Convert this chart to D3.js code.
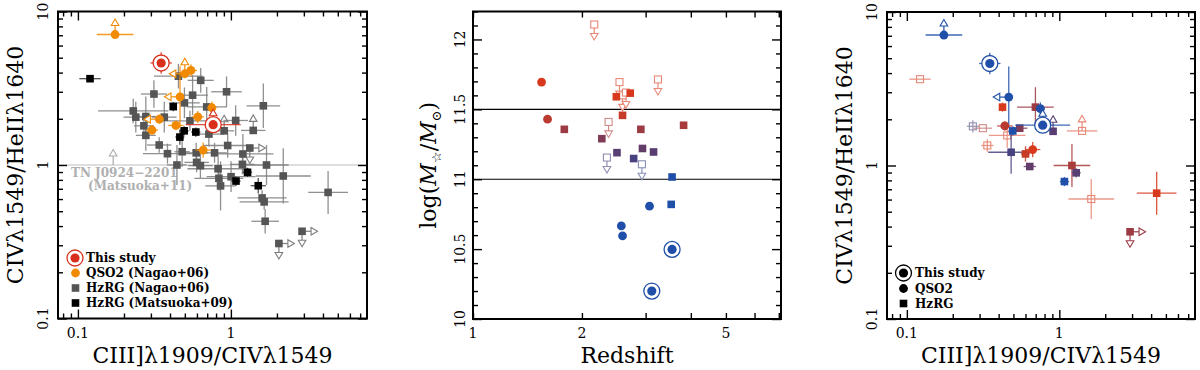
<!DOCTYPE html>
<html lang="en">
<head>
<meta charset="UTF-8" />
<script src="https://d3js.org/d3.v7.min.js"></script>
<title>CIV/HeII vs CIII]/CIV and stellar mass</title>
<style>
  body { margin: 0; background: #fff; }
  svg text { font-family: "DejaVu Serif", serif; }
</style>
</head>
<body>
<div id="chart"></div>
<script>
// ---- line ratio panels: [CIII]/CIV, CIV/HeII, x err (dex), y err (dex), limit arrows]
var thisStudyRatio = [
  [0.35, 4.62, 0.07, 0.07, ""],
  [0.766, 1.83, 0.18, 0, "u"]
];
var qso2Nagao = [
  [0.175, 7.08, 0.12, 0, "u"],
  [0.50, 3.93, 0, 0, "lu"],
  [0.548, 4.13, 0.04, 0.04, ""],
  [0.465, 2.78, 0, 0.2, "l"],
  [0.751, 2.36, 0.03, 0.04, ""],
  [0.608, 2.06, 0.04, 0.04, ""],
  [0.341, 1.99, 0, 0.03, "l"],
  [0.305, 1.69, 0.04, 0.03, ""],
  [0.437, 1.81, 0.05, 0.03, ""],
  [0.659, 1.25, 0.05, 0.05, ""]
];
var hzrgNagao = [
  [0.314, 2.90, 0.085, 0.09, ""], [0.230, 2.25, 0.23, 0.08, ""], [0.239, 2.05, 0.08, 0.1, ""],
  [0.278, 2.07, 0.065, 0.13, ""], [0.270, 1.80, 0.065, 0.08, ""], [0.278, 1.56, 0.065, 0.1, ""],
  [0.340, 1.35, 0.08, 0.05, ""], [0.367, 2.05, 0.08, 0.1, ""], [0.385, 1.185, 0.16, 0.065, ""],
  [0.444, 1.00, 0.065, 0.13, ""], [0.480, 1.22, 0.05, 0.1, ""], [0.454, 3.79, 0.16, 0.08, ""],
  [0.497, 2.54, 0.1, 0.1, ""], [0.562, 2.85, 0.1, 0.13, ""], [0.635, 3.56, 0.085, 0.08, ""],
  [0.54, 1.94, 0.2, 0.065, ""], [0.593, 1.20, 0.08, 0.065, ""], [0.597, 1.04, 0.08, 0.065, ""],
  [0.632, 0.99, 0.08, 0.08, ""], [0.695, 2.39, 0.13, 0.13, ""], [0.718, 1.59, 0.1, 0.08, ""],
  [0.782, 1.20, 0.08, 0.065, ""], [0.825, 0.945, 0.2, 0.08, ""], [0.835, 0.819, 0.16, 0.08, ""],
  [0.856, 0.731, 0.1, 0.16, ""], [0.937, 3.00, 0.1, 0.1, ""], [0.904, 1.67, 0.065, 0, "u"],
  [0.953, 1.34, 0.16, 0.08, ""], [1.003, 0.839, 0.16, 0.1, ""], [1.075, 1.95, 0.08, 0.1, ""],
  [1.198, 1.18, 0.2, 0.13, ""], [1.19, 1.01, 0.08, 0.065, ""], [1.33, 1.29, 0, 0, "rd"],
  [1.40, 1.68, 0.08, 0, "u"], [1.63, 2.43, 0.11, 0.145, ""], [1.71, 1.00, 0.145, 0.13, ""],
  [1.60, 0.61, 0.16, 0.05, ""], [1.65, 0.575, 0.16, 0.05, ""], [1.675, 0.43, 0.09, 0.08, ""],
  [2.20, 0.848, 0.18, 0.18, ""], [2.06, 0.308, 0, 0, "rd"], [2.92, 0.37, 0, 0, "rd"],
  [4.32, 0.663, 0.13, 0.14, ""]
];
var hzrgMatsuoka = [
  [0.12, 3.65, 0.07, 0, ""], [0.42, 2.40, 0, 0.03, ""], [0.464, 1.52, 0.03, 0.05, ""],
  [0.495, 1.67, 0.03, 0.03, ""], [0.59, 1.64, 0.03, 0.03, ""], [1.285, 0.896, 0.03, 0.03, ""],
  [1.08, 0.786, 0.03, 0.03, ""], [1.51, 0.733, 0.05, 0.05, ""]
];
var tnJ0924 = [[0.17, 1.0, 0, 0, "u"]];

// ---- stellar mass panel: [redshift, log M*]
var thisStudyMass = [[3.55, 10.498], [3.12, 10.2]];
var qso2Mass = [[1.547, 11.695], [1.607, 11.43], [2.57, 10.666], [2.59, 10.595], [3.075, 10.807]];
var hzrgMass = [
  [1.788, 11.357], [2.27, 11.29], [2.50, 11.19], [2.49, 11.59], [2.59, 11.457], [2.72, 11.616],
  [2.78, 11.148], [2.91, 11.357], [2.94, 11.22], [3.155, 11.195], [3.82, 11.386], [3.55, 11.016],
  [3.53, 10.82]
];
var hzrgMassLim = [
  [2.163, 12.107], [2.37, 11.41], [2.345, 11.155], [2.54, 11.695], [2.59, 11.60], [2.647, 11.62],
  [2.93, 11.107], [3.245, 11.714]
];

// ---- right panel: line ratios of objects with masses, last column log M*
var thisStudyRatioM = [[0.35, 4.62, 0.07, 0.07, "", 10.498], [0.778, 1.83, 0.18, 0, "u", 10.2]];
var qso2RatioM = [
  [0.175, 7.08, 0.12, 0, "u", 10.666], [0.466, 2.79, 0, 0.2, "l", 10.807],
  [0.751, 2.35, 0.03, 0.04, "", 10.595], [0.439, 1.81, 0.05, 0.03, "", 11.43],
  [0.669, 1.27, 0.05, 0.05, "", 11.695]
];
var hzrgRatioM = [
  [0.424, 2.40, 0, 0.03, "", 11.59], [0.697, 2.40, 0.12, 0.13, "", 11.357],
  [0.55, 1.75, 0.05, 0.02, "", 11.29], [0.495, 1.68, 0.03, 0.03, "", 11.016],
  [0.483, 1.22, 0.15, 0.14, "", 11.148], [0.60, 1.19, 0.03, 0.05, "", 11.457],
  [0.64, 0.985, 0.04, 0, "", 11.22], [0.91, 1.67, 0, 0, "u", 11.195],
  [1.21, 1.0, 0.12, 0.14, "", 11.386], [1.29, 0.896, 0.03, 0.03, "", 11.19],
  [1.08, 0.786, 0.03, 0.03, "", 10.82], [4.35, 0.66, 0.13, 0.14, "", 11.616],
  [2.91, 0.37, 0, 0, "rd", 11.357]
];
var hzrgRatioMLim = [
  [0.122, 3.65, 0.07, 0, "", 12.107], [0.271, 1.80, 0.04, 0.04, "", 11.155],
  [0.315, 1.75, 0.06, 0, "", 11.41], [0.337, 1.35, 0.04, 0.04, "", 11.61],
  [0.455, 1.57, 0.12, 0.08, "", 11.62], [1.41, 1.68, 0.1, 0, "u", 11.714],
  [1.62, 0.605, 0.15, 0.13, "", 11.695]
];

var ratioXLabels = [0.1, 1], ratioYLabels = [0.1, 1, 10];
var zLabels = [1, 2, 5], massLabels = [10, 10.5, 11, 11.5, 12];
var massCuts = [11, 11.5];

// colours
var ORANGE = "#f28a00", THIS_RED = "#d9301e", GREY = "#555", GREY_ERR = "#7d7d7d";
var massColor = d3.scaleLinear().domain([11.02, 11.2, 11.5])
  .range(["#1f4fa8", "#5a3d70", "#d8391c"]).clamp(true);
function lighter(c) { return d3.interpolateRgb(c, "#fff")(0.4); }

var svg = d3.select("#chart").append("svg").attr("width", 1200).attr("height", 370);

// scales
var xL = d3.scaleLog().domain([0.0741, 7.76]).range([58, 367]);
var yL = d3.scaleLog().domain([0.1, 10]).range([318.5, 11.5]);
var xM = d3.scaleLog().domain([1, 7.1]).range([473, 781]);
var yM = d3.scaleLinear().domain([10, 12.2]).range([319, 11.5]);
var xR = d3.scaleLog().domain([0.0741, 7.76]).range([887, 1195]);
var yR = d3.scaleLog().domain([0.1, 10]).range([319, 12]);

function logSplit(scale) {
  var maj = [], min = [];
  scale.ticks().forEach(function (v) {
    var l = Math.log10(v);
    (Math.abs(l - Math.round(l)) < 1e-9 ? maj : min).push(v);
  });
  return [[maj, 9], [min, 5]];
}

function frameAxes(g, sx, sy, xt, yt) {
  var xr = sx.range(), yr = sy.range();
  function put(axis, tx, ty) {
    g.append("g").attr("transform", "translate(" + tx + "," + ty + ")").call(axis);
  }
  xt.forEach(function (t) {
    put(d3.axisBottom(sx).tickValues(t[0]).tickSize(-t[1]).tickFormat(""), 0, yr[0]);
    put(d3.axisTop(sx).tickValues(t[0]).tickSize(-t[1]).tickFormat(""), 0, yr[1]);
  });
  yt.forEach(function (t) {
    put(d3.axisLeft(sy).tickValues(t[0]).tickSize(-t[1]).tickFormat(""), xr[0], 0);
    put(d3.axisRight(sy).tickValues(t[0]).tickSize(-t[1]).tickFormat(""), xr[1], 0);
  });
  g.selectAll(".domain").remove();
  g.selectAll(".tick line").attr("stroke", "#000").attr("stroke-width", 1.4);
  g.append("rect").attr("x", xr[0]).attr("y", yr[1])
    .attr("width", xr[1] - xr[0]).attr("height", yr[0] - yr[1])
    .attr("fill", "none").attr("stroke", "#000").attr("stroke-width", 2);
}

function tickLabels(g, sx, sy, xv, yv, yLabX) {
  g.selectAll(null).data(xv).enter().append("text")
    .attr("x", function (d) { return sx(d); }).attr("y", 338)
    .attr("text-anchor", "middle").attr("font-size", 14).text(String);
  g.selectAll(null).data(yv).enter().append("text")
    .attr("transform", function (d) { return "translate(" + yLabX + "," + sy(d) + ") rotate(-90)"; })
    .attr("text-anchor", "middle").attr("font-size", 14).text(String);
}

var DIRS = { u: [0, -1, 0], d: [0, 1, 180], l: [-1, 0, 270], r: [1, 0, 90] };
function arrow(g, x, y, dir, color) {
  var v = DIRS[dir], L = 12;
  g.append("line").attr("x1", x).attr("y1", y)
    .attr("x2", x + v[0] * (L - 3)).attr("y2", y + v[1] * (L - 3))
    .attr("stroke", color).attr("stroke-width", 1.2);
  g.append("path").attr("d", "M0,-3.5L3.8,3L-3.8,3Z")
    .attr("transform", "translate(" + (x + v[0] * L) + "," + (y + v[1] * L) + ") rotate(" + v[2] + ")")
    .attr("fill", "#fff").attr("stroke", color).attr("stroke-width", 1.1);
}

function marker(g, x, y, shape, c) {
  if (shape === "circle") {
    g.append("circle").attr("cx", x).attr("cy", y).attr("r", 4.4).attr("fill", c);
  } else if (shape === "square") {
    g.append("rect").attr("x", x - 3.8).attr("y", y - 3.8).attr("width", 7.6).attr("height", 7.6).attr("fill", c);
  } else if (shape === "open") {
    g.append("rect").attr("x", x - 3.5).attr("y", y - 3.5).attr("width", 7).attr("height", 7)
      .attr("fill", "none").attr("stroke", c).attr("stroke-width", 1.1);
  } else if (shape === "openw") {
    g.append("rect").attr("x", x - 3.5).attr("y", y - 3.5).attr("width", 7).attr("height", 7)
      .attr("fill", "#fff").attr("stroke", c).attr("stroke-width", 1.1);
  } else if (shape === "this") {
    g.append("circle").attr("cx", x).attr("cy", y).attr("r", 8).attr("fill", "#fff")
      .attr("stroke", c).attr("stroke-width", 1.3);
    g.append("circle").attr("cx", x).attr("cy", y).attr("r", 4.6).attr("fill", c);
  }
}

// rows: [x, y, dx, dy, lims, ...]; colorOf(row) gives marker colour
function drawSet(g, sx, sy, rows, shape, colorOf, errColorOf) {
  var grp = g.append("g");
  errColorOf = errColorOf || colorOf;
  rows.forEach(function (d) {
    var x = sx(d[0]), y = sy(d[1]), ec = errColorOf(d);
    if (d[2]) grp.append("line").attr("x1", sx(d[0] / Math.pow(10, d[2]))).attr("x2", sx(d[0] * Math.pow(10, d[2])))
      .attr("y1", y).attr("y2", y).attr("stroke", ec).attr("stroke-width", 1.3).attr("opacity", 0.85);
    if (d[3]) grp.append("line").attr("y1", sy(d[1] / Math.pow(10, d[3]))).attr("y2", sy(d[1] * Math.pow(10, d[3])))
      .attr("x1", x).attr("x2", x).attr("stroke", ec).attr("stroke-width", 1.3).attr("opacity", 0.85);
    (d[4] || "").split("").forEach(function (dir) { if (dir) arrow(grp, x, y, dir, ec); });
  });
  rows.forEach(function (d) { marker(grp, sx(d[0]), sy(d[1]), shape, colorOf(d)); });
}

function legendText(g, x, y, s, size) {
  g.append("text").attr("x", x).attr("y", y + 4.3).attr("font-size", size || 12)
    .attr("font-weight", "bold").text(s);
}

// ================= left panel =================
var gL = svg.append("g");
gL.append("line").attr("x1", xL.range()[0]).attr("x2", xL.range()[1])
  .attr("y1", yL(1)).attr("y2", yL(1)).attr("stroke", "#bdbdbd").attr("stroke-width", 1.2);
drawSet(gL, xL, yL, tnJ0924, "none", function () { return "#aaa"; });
gL.append("text").attr("x", 71).attr("y", 176.5).attr("font-size", 12).attr("font-weight", "bold")
  .attr("fill", "#b0b0b0").text("TN J0924\u22122201");
gL.append("text").attr("x", 88).attr("y", 189.5).attr("font-size", 12).attr("font-weight", "bold")
  .attr("fill", "#b0b0b0").text("(Matsuoka+11)");

drawSet(gL, xL, yL, hzrgNagao, "square", function () { return GREY; }, function () { return GREY_ERR; });
drawSet(gL, xL, yL, hzrgMatsuoka, "square", function () { return "#000"; }, function () { return "#333"; });
drawSet(gL, xL, yL, qso2Nagao, "circle", function () { return ORANGE; });
drawSet(gL, xL, yL, thisStudyRatio, "this", function () { return THIS_RED; });

frameAxes(gL, xL, yL, logSplit(xL), logSplit(yL));
tickLabels(gL, xL, yL, ratioXLabels, ratioYLabels, 48);
gL.append("text").attr("transform", "translate(23," + yL(1) + ") rotate(-90)")
  .attr("text-anchor", "middle").attr("font-size", 22).text("CIV\u03bb1549/HeII\u03bb1640");
gL.append("text").attr("x", 212.5).attr("y", 363).attr("text-anchor", "middle")
  .attr("font-size", 22).text("CIII]\u03bb1909/CIV\u03bb1549");

marker(gL, 75, 258, "this", THIS_RED);
legendText(gL, 86, 258, "This study");
marker(gL, 75.5, 273, "circle", ORANGE);
legendText(gL, 86, 273, "QSO2 (Nagao+06)");
marker(gL, 75.5, 288, "square", GREY);
legendText(gL, 86, 288, "HzRG (Nagao+06)");
marker(gL, 75.5, 303, "square", "#000");
legendText(gL, 86, 303, "HzRG (Matsuoka+09)");

// ================= middle panel =================
var gM = svg.append("g");
gM.selectAll(null).data(massCuts).enter().append("line")
  .attr("x1", xM.range()[0]).attr("x2", xM.range()[1])
  .attr("y1", function (d) { return yM(d); }).attr("y2", function (d) { return yM(d); })
  .attr("stroke", "#000").attr("stroke-width", 1.1);
function mcol(d) { return massColor(d[1]); }
function asRows(a, lim) { return a.map(function (d) { return [d[0], d[1], 0, 0, lim]; }); }
drawSet(gM, xM, yM, asRows(hzrgMassLim, "d"), "openw", function (d) { return lighter(mcol(d)); });
drawSet(gM, xM, yM, asRows(hzrgMass, ""), "square", mcol);
drawSet(gM, xM, yM, asRows(qso2Mass, ""), "circle", mcol);
drawSet(gM, xM, yM, asRows(thisStudyMass, ""), "this", function () { return "#1f4fa8"; });

var yMajor = [], yMinor = [];
yM.ticks(22).forEach(function (v) {
  (Math.abs(v * 2 - Math.round(v * 2)) < 1e-6 ? yMajor : yMinor).push(v);
});
frameAxes(gM, xM, yM, [[xM.ticks(), 6]], [[yMajor, 9], [yMinor, 5]]);
tickLabels(gM, xM, yM, zLabels, massLabels, 465);
var ty = gM.append("text").attr("transform", "translate(436," + yM(11.1) + ") rotate(-90)")
  .attr("text-anchor", "middle").attr("font-size", 22);
ty.append("tspan").text("log(");
ty.append("tspan").attr("font-style", "italic").text("M");
ty.append("tspan").attr("dy", 5).attr("font-size", 13).text("\u2606");
ty.append("tspan").attr("dy", -5).text("/");
ty.append("tspan").attr("font-style", "italic").text("M");
ty.append("tspan").attr("dy", 5).attr("font-size", 13).text("\u2299");
ty.append("tspan").attr("dy", -5).text(")");
gM.append("text").attr("x", 627).attr("y", 363).attr("text-anchor", "middle")
  .attr("font-size", 22).text("Redshift");

// ================= right panel =================
var gR = svg.append("g");
function rcol(d) { return massColor(d[5]); }
drawSet(gR, xR, yR, hzrgRatioMLim, "open", function (d) { return lighter(rcol(d)); });
drawSet(gR, xR, yR, hzrgRatioM, "square", rcol);
drawSet(gR, xR, yR, qso2RatioM, "circle", rcol);
drawSet(gR, xR, yR, thisStudyRatioM, "this", rcol);

frameAxes(gR, xR, yR, logSplit(xR), logSplit(yR));
tickLabels(gR, xR, yR, ratioXLabels, ratioYLabels, 877);
gR.append("text").attr("transform", "translate(852," + yR(1) + ") rotate(-90)")
  .attr("text-anchor", "middle").attr("font-size", 22).text("CIV\u03bb1549/HeII\u03bb1640");
gR.append("text").attr("x", 1041).attr("y", 363).attr("text-anchor", "middle")
  .attr("font-size", 22).text("CIII]\u03bb1909/CIV\u03bb1549");

marker(gR, 903.5, 273, "this", "#000");
legendText(gR, 915, 273, "This study");
marker(gR, 903.5, 288.5, "circle", "#000");
legendText(gR, 915, 288.5, "QSO2");
marker(gR, 903.5, 303.5, "square", "#000");
legendText(gR, 915, 303.5, "HzRG");
</script>
</body>
</html>
